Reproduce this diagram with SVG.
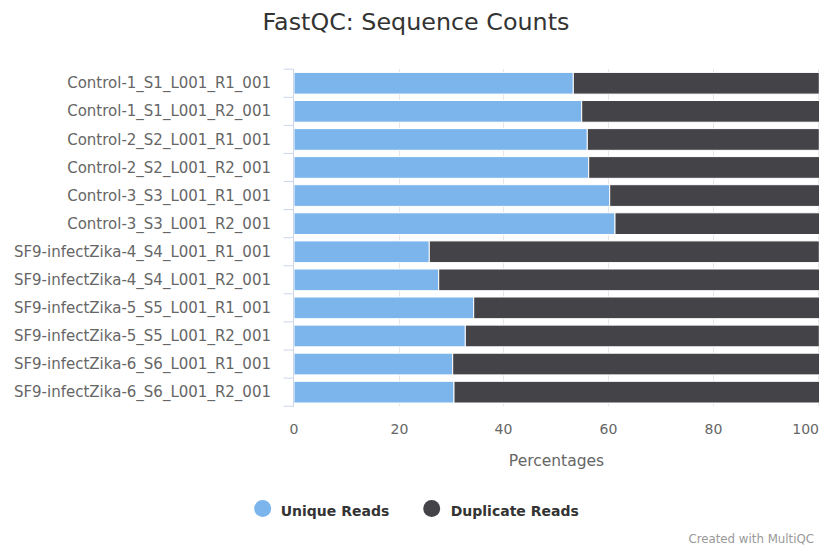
<svg xmlns="http://www.w3.org/2000/svg" width="819" height="547" viewBox="0 0 819 547">
<style>
text{font-family:"DejaVu Sans",Verdana,sans-serif}
.title{font-size:23.8px;fill:#333;text-anchor:middle}
.cat{font-size:15px;fill:#666;text-anchor:end}
.tick{font-size:14px;fill:#666;text-anchor:middle}
.axt{font-size:15.5px;fill:#666;text-anchor:middle}
.leg{font-size:14px;font-weight:bold;fill:#333}
.cred{font-size:11.8px;fill:#999;text-anchor:end}
.grid{stroke:#e6e6e6;stroke-width:1}
.axis{stroke:#ccd6eb;stroke-width:1}
.u{fill:#7cb5ec;stroke:#fff;stroke-width:1}
.d{fill:#434348;stroke:#fff;stroke-width:1}
</style>
<rect width="819" height="547" fill="#fff"/>
<text class="title" x="416" y="29.5">FastQC: Sequence Counts</text>
<g id="grid">
<line class="grid" x1="399.5" y1="69" x2="399.5" y2="406"/>
<line class="grid" x1="503.5" y1="69" x2="503.5" y2="406"/>
<line class="grid" x1="608.5" y1="69" x2="608.5" y2="406"/>
<line class="grid" x1="713.5" y1="69" x2="713.5" y2="406"/>
<line class="grid" x1="818.5" y1="69" x2="818.5" y2="406"/>
</g>
<g id="bars">
<g id="bar1"><rect class="u" x="294" y="72.4" width="279.3" height="21.7"/><rect class="d" x="573.3" y="72.4" width="246" height="21.7"/></g>
<g id="bar2"><rect class="u" x="294" y="100.5" width="287.7" height="21.7"/><rect class="d" x="581.7" y="100.5" width="238" height="21.7"/></g>
<g id="bar3"><rect class="u" x="294" y="128.6" width="293.3" height="21.7"/><rect class="d" x="587.3" y="128.6" width="232" height="21.7"/></g>
<g id="bar4"><rect class="u" x="294" y="156.6" width="294.7" height="21.7"/><rect class="d" x="588.7" y="156.6" width="231" height="21.7"/></g>
<g id="bar5"><rect class="u" x="294" y="184.7" width="315.7" height="21.7"/><rect class="d" x="609.7" y="184.7" width="210" height="21.7"/></g>
<g id="bar6"><rect class="u" x="294" y="212.8" width="321" height="21.7"/><rect class="d" x="615" y="212.8" width="205" height="21.7"/></g>
<g id="bar7"><rect class="u" x="294" y="240.9" width="135.3" height="21.7"/><rect class="d" x="429.3" y="240.9" width="390" height="21.7"/></g>
<g id="bar8"><rect class="u" x="294" y="269" width="144.7" height="21.7"/><rect class="d" x="438.7" y="269" width="381" height="21.7"/></g>
<g id="bar9"><rect class="u" x="294" y="297" width="179.7" height="21.7"/><rect class="d" x="473.7" y="297" width="346" height="21.7"/></g>
<g id="bar10"><rect class="u" x="294" y="325.1" width="171.3" height="21.7"/><rect class="d" x="465.3" y="325.1" width="354" height="21.7"/></g>
<g id="bar11"><rect class="u" x="294" y="353.2" width="158.7" height="21.7"/><rect class="d" x="452.7" y="353.2" width="367" height="21.7"/></g>
<g id="bar12"><rect class="u" x="294" y="381.3" width="160" height="21.7"/><rect class="d" x="454" y="381.3" width="366" height="21.7"/></g>
</g>
<g id="yaxis">
<line class="axis" x1="293.5" y1="69" x2="293.5" y2="406.5"/>
<path class="axis" fill="none" d="M283.5 69.2H293.5M283.5 97.3H293.5M283.5 125.4H293.5M283.5 153.4H293.5M283.5 181.5H293.5M283.5 209.6H293.5M283.5 237.7H293.5M283.5 265.8H293.5M283.5 293.8H293.5M283.5 321.9H293.5M283.5 350H293.5M283.5 378.1H293.5M283.5 406.2H293.5"/>
</g>
<g id="labels">
<text class="cat" x="271" y="88.3">Control-1_S1_L001_R1_001</text>
<text class="cat" x="271" y="116.4">Control-1_S1_L001_R2_001</text>
<text class="cat" x="271" y="144.5">Control-2_S2_L001_R1_001</text>
<text class="cat" x="271" y="172.5">Control-2_S2_L001_R2_001</text>
<text class="cat" x="271" y="200.6">Control-3_S3_L001_R1_001</text>
<text class="cat" x="271" y="228.7">Control-3_S3_L001_R2_001</text>
<text class="cat" x="271" y="256.8">SF9-infectZika-4_S4_L001_R1_001</text>
<text class="cat" x="271" y="284.9">SF9-infectZika-4_S4_L001_R2_001</text>
<text class="cat" x="271" y="312.9">SF9-infectZika-5_S5_L001_R1_001</text>
<text class="cat" x="271" y="341">SF9-infectZika-5_S5_L001_R2_001</text>
<text class="cat" x="271" y="369.1">SF9-infectZika-6_S6_L001_R1_001</text>
<text class="cat" x="271" y="397.2">SF9-infectZika-6_S6_L001_R2_001</text>
</g>
<g id="xaxis">
<text class="tick" x="294" y="433.5">0</text>
<text class="tick" x="399.5" y="433.5">20</text>
<text class="tick" x="503.5" y="433.5">40</text>
<text class="tick" x="608.5" y="433.5">60</text>
<text class="tick" x="713.5" y="433.5">80</text>
<text class="tick" x="819" y="433.5" style="text-anchor:end">100</text>
<text class="axt" x="556.5" y="466">Percentages</text>
</g>
<g id="legend">
<g id="leg-unique"><circle cx="262.7" cy="508.5" r="8.5" fill="#7cb5ec"/><text class="leg" x="280.7" y="516">Unique Reads</text></g>
<g id="leg-dup"><circle cx="431.7" cy="508.5" r="8.5" fill="#434348"/><text class="leg" x="450.7" y="516">Duplicate Reads</text></g>
</g>
<text class="cred" x="814" y="543.3">Created with MultiQC</text>
</svg>
